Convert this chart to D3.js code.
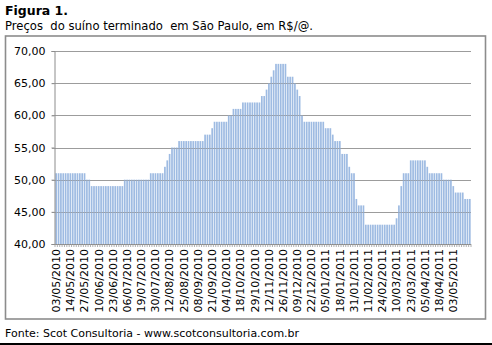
<!DOCTYPE html>
<html>
<head>
<meta charset="utf-8">
<script src="https://cdn.jsdelivr.net/npm/d3@7/dist/d3.min.js"></script>
<style>
  html, body { margin: 0; padding: 0; background: #fff; }
  svg text { font-family: "DejaVu Sans", Verdana, sans-serif; }
</style>
</head>
<body>
<svg id="chart" width="492" height="345"></svg>
<script>
// Hog price series (R$/@), one bar per quotation, May 2010 – May 2011
const prices = [
  51,51,51,51,51,51,51,51,51,51,51,51,51,
  50,50,
  49,49,49,49,49,49,49,49,49,49,49,49,49,49,
  50,50,50,50,50,50,50,50,50,50,50,
  51,51,51,51,51,51,
  52,53,54,55,55,55,
  56,56,56,56,56,56,56,56,56,56,56,
  57,57,57,58,
  59,59,59,59,59,59,
  60,60,61,61,61,61,
  62,62,62,62,62,62,62,62,
  63,63,64,65,66,67,
  68,68,68,68,68,
  66,66,66,65,64,63,60,
  59,59,59,59,59,59,59,59,59,
  58,58,58,57,56,56,56,
  54,54,54,52,51,51,
  47,46,46,46,
  43,43,43,43,43,43,43,43,43,43,43,43,43,
  44,46,49,51,51,51,
  53,53,53,53,53,53,53,
  52,51,51,51,51,51,51,
  50,50,50,50,49,
  48,48,48,48,
  47,47,47
];

// Dates shown on the category axis (every sixth quotation)
const dateLabels = [
  "03/05/2010","14/05/2010","27/05/2010","10/06/2010","23/06/2010","06/07/2010",
  "19/07/2010","30/07/2010","12/08/2010","25/08/2010","08/09/2010","21/09/2010",
  "04/10/2010","18/10/2010","29/10/2010","12/11/2010","26/11/2010","09/12/2010",
  "22/12/2010","05/01/2011","18/01/2011","31/01/2011","11/02/2011","24/02/2011",
  "10/03/2011","23/03/2011","05/04/2011","18/04/2011","03/05/2011"
];
const labelEvery = 6;

const yTicks = [40, 45, 50, 55, 60, 65, 70];

const titleText = "Figura 1.";
const subtitleText = "Preços  do suíno terminado  em São Paulo, em R$/@.";
const sourceText = "Fonte: Scot Consultoria - www.scotconsultoria.com.br";

const svg = d3.select("#chart");

// Header and source lines
svg.append("text").attr("x", 5).attr("y", 15)
  .style("font-size", "12.5px").style("font-weight", "bold").attr("fill", "#000")
  .text(titleText);
svg.append("text").attr("x", 5).attr("y", 30)
  .style("font-size", "11.6px").attr("fill", "#000")
  .attr("xml:space", "preserve").style("white-space", "pre")
  .text(subtitleText);
svg.append("text").attr("x", 5).attr("y", 337)
  .style("font-size", "11px").attr("fill", "#000")
  .text(sourceText);

// Chart frame
svg.append("rect").attr("x", 5.5).attr("y", 36).attr("width", 480).attr("height", 283)
  .attr("fill", "none").attr("stroke", "#8c8c8c").attr("stroke-width", 1.6);
svg.append("rect").attr("x", 0).attr("y", 343).attr("width", 492).attr("height", 2)
  .attr("fill", "#000");

// Plot area
const plot = { left: 55, right: 471, top: 51, bottom: 244 };

const x = d3.scaleBand()
  .domain(d3.range(prices.length))
  .range([plot.left, plot.right])
  .paddingInner(0.28)
  .paddingOuter(0.14);

const y = d3.scaleLinear()
  .domain([d3.min(yTicks), d3.max(yTicks)])
  .range([plot.bottom, plot.top]);

const fmt = v => d3.format(".2f")(v).replace(".", ",");

// Horizontal gridlines
svg.append("g")
  .selectAll("line").data(yTicks.filter(t => t > 40)).join("line")
  .attr("x1", plot.left - 3).attr("x2", plot.right)
  .attr("y1", d => Math.round(y(d)) + 0.5).attr("y2", d => Math.round(y(d)) + 0.5)
  .attr("stroke", "#a6a6a6").attr("stroke-width", 1);

// Bars
svg.append("g")
  .selectAll("rect").data(prices).join("rect")
  .attr("x", (d, i) => x(i))
  .attr("width", x.bandwidth())
  .attr("y", d => y(d))
  .attr("height", d => y(40) - y(d))
  .attr("fill", "#9ebbe2");

// Gridlines re-drawn lightly across the bars
svg.append("g")
  .selectAll("line").data(yTicks.filter(t => t > 40)).join("line")
  .attr("x1", plot.left).attr("x2", plot.right)
  .attr("y1", d => Math.round(y(d)) + 0.5).attr("y2", d => Math.round(y(d)) + 0.5)
  .attr("stroke", "#8a8a8a").attr("stroke-opacity", 0.35).attr("stroke-width", 1);

// Y axis
const yAxis = d3.axisLeft(y).tickValues(yTicks).tickFormat(fmt).tickSize(3).tickPadding(6);
const gy = svg.append("g").attr("transform", `translate(${plot.left - 0.5},0)`).call(yAxis);
gy.select(".domain").attr("stroke", "#8c8c8c");
gy.selectAll(".tick line").attr("stroke", "#8c8c8c");
gy.selectAll(".tick text").style("font-size", "11px").attr("fill", "#000")
  .style("font-family", "'DejaVu Sans', Verdana, sans-serif");

// X axis: baseline with a tick at every category boundary
svg.append("line")
  .attr("x1", plot.left).attr("x2", plot.right)
  .attr("y1", plot.bottom + 0.5).attr("y2", plot.bottom + 0.5)
  .attr("stroke", "#8c8c8c");
svg.append("g")
  .selectAll("line").data(d3.range(prices.length + 1)).join("line")
  .attr("x1", i => plot.left + i * x.step()).attr("x2", i => plot.left + i * x.step())
  .attr("y1", plot.bottom).attr("y2", plot.bottom + 3)
  .attr("stroke", "#9a9a9a").attr("stroke-width", 0.8);

// Rotated date labels
svg.append("g")
  .selectAll("text").data(dateLabels).join("text")
  .attr("transform", (d, k) => {
    const cx = x(k * labelEvery) + x.bandwidth() / 2;
    return `translate(${cx},${plot.bottom + 5}) rotate(-90)`;
  })
  .attr("text-anchor", "end")
  .attr("dy", "0.35em")
  .style("font-size", "11px")
  .attr("fill", "#000")
  .text(d => d);
</script>
</body>
</html>
